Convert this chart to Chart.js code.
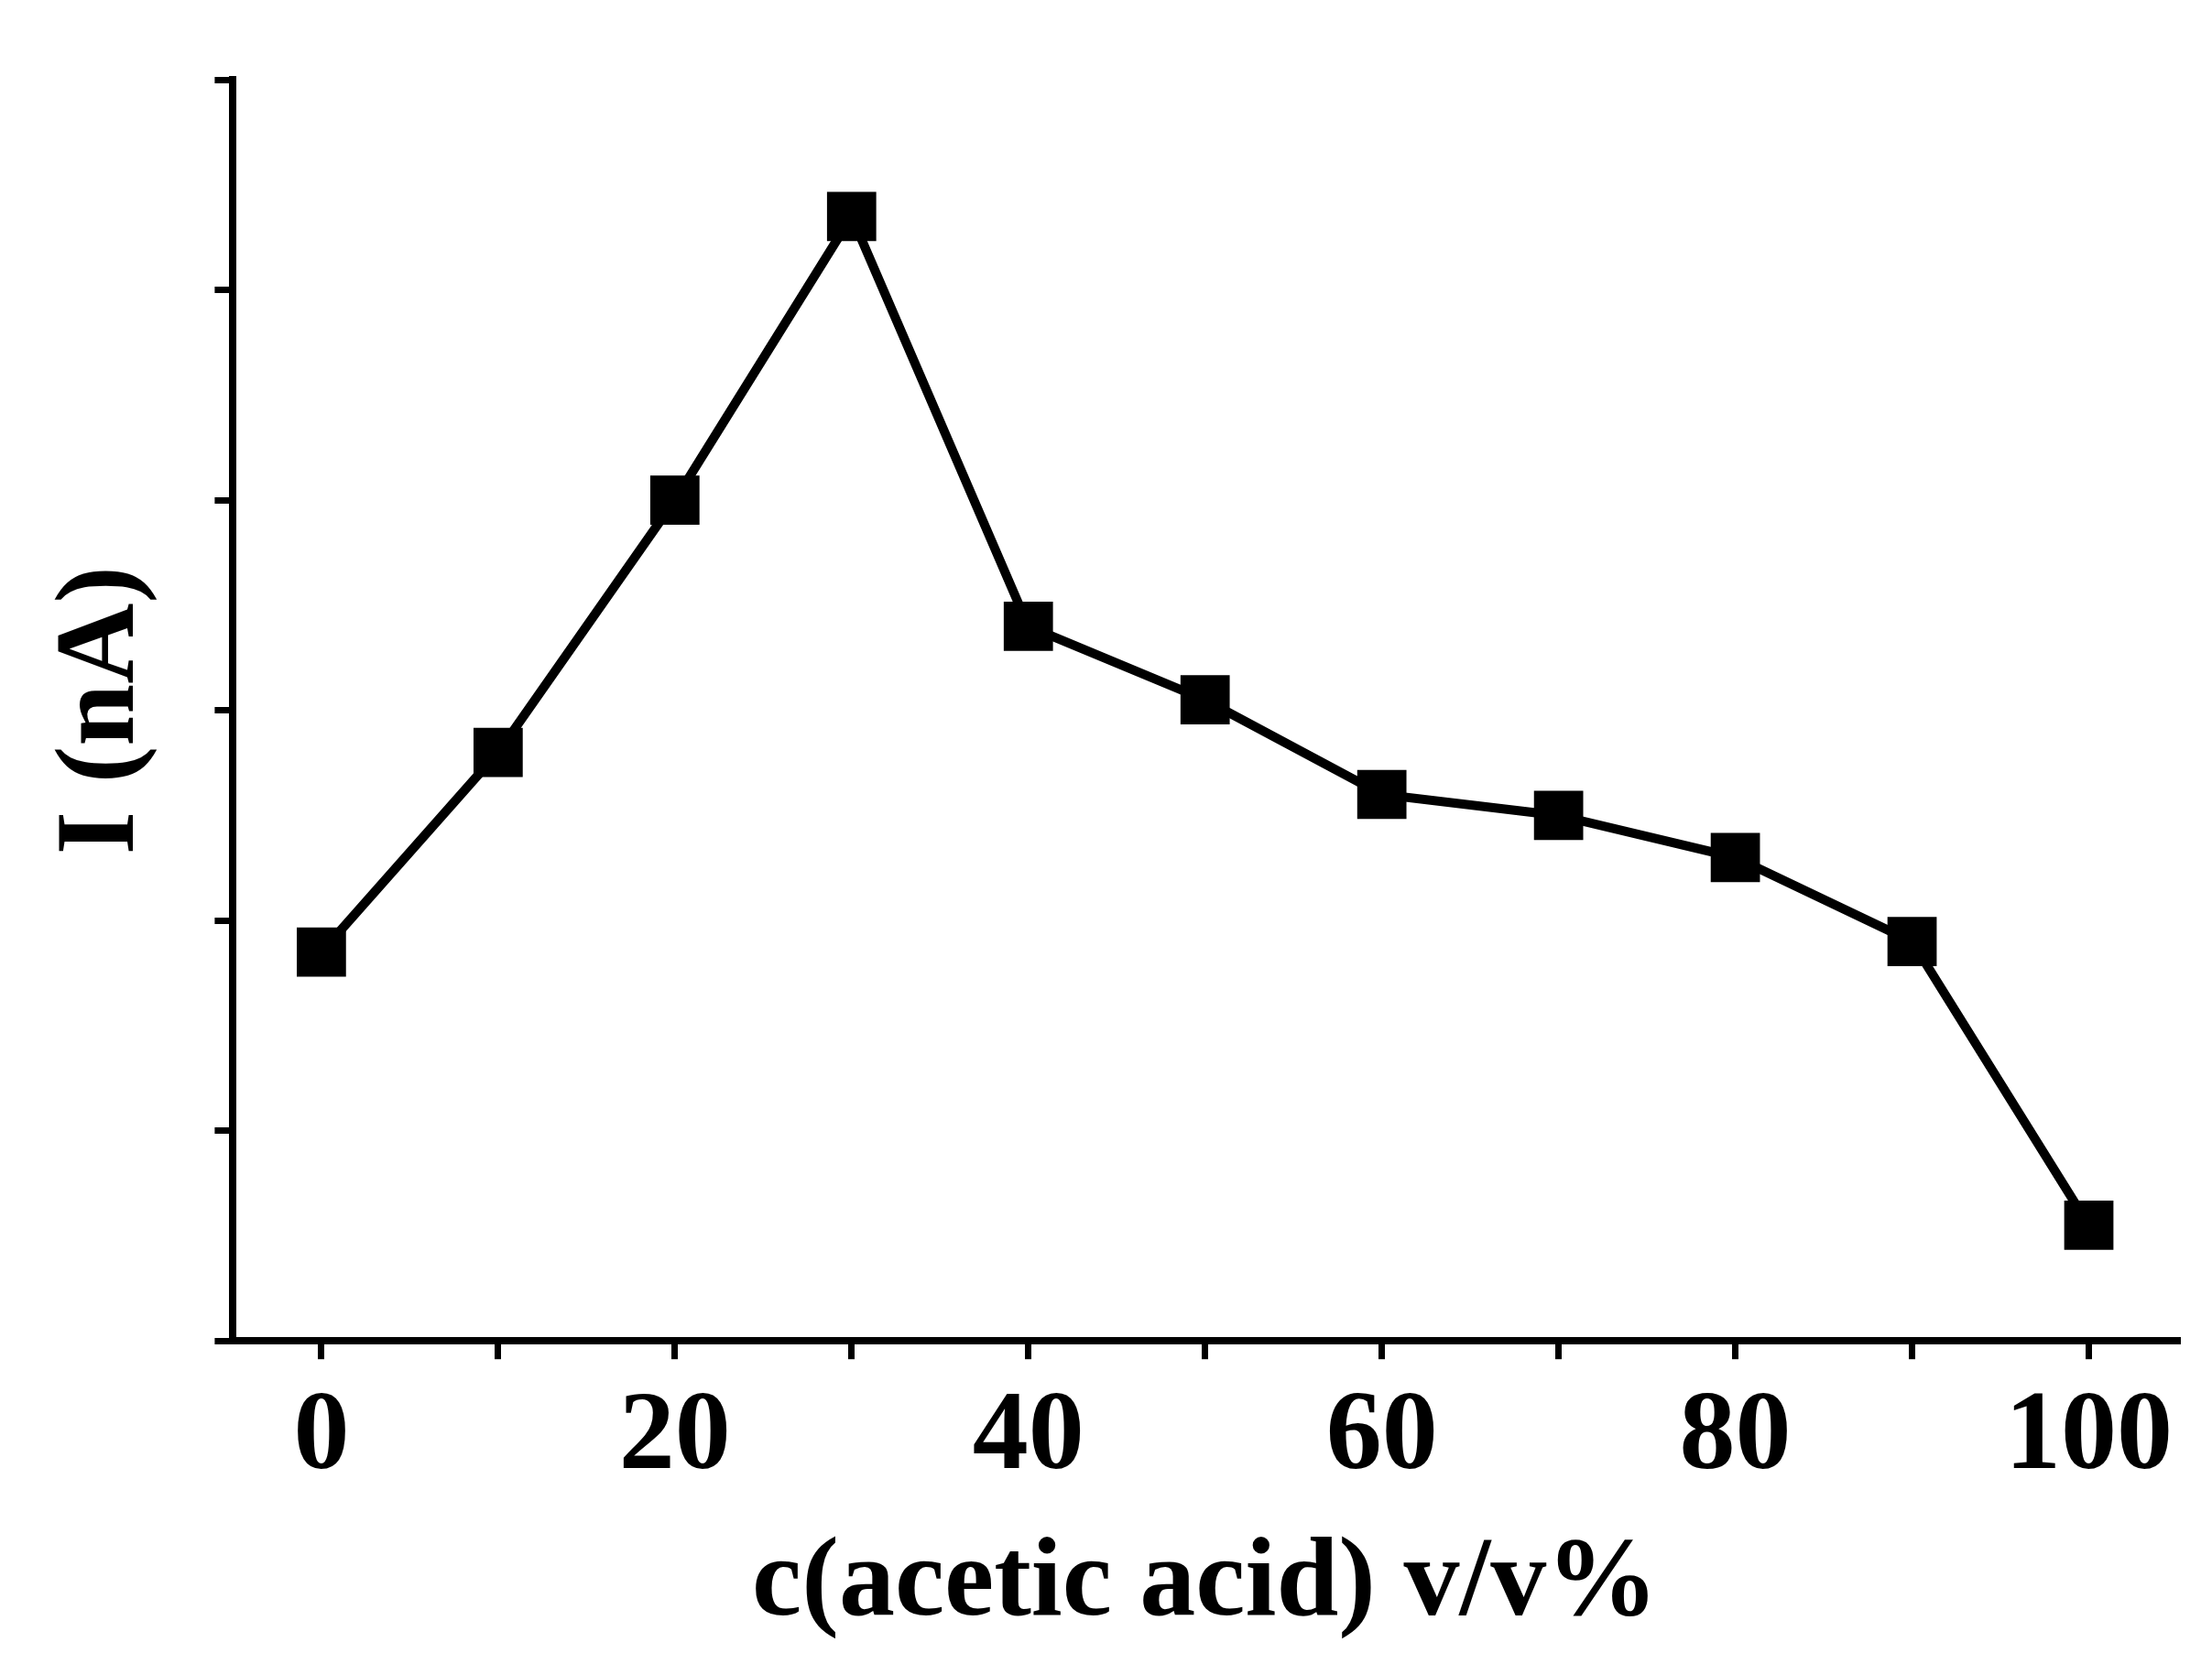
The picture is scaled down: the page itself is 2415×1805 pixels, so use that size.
<!DOCTYPE html>
<html>
<head>
<meta charset="utf-8">
<script src="https://cdn.jsdelivr.net/npm/chart.js@4/dist/chart.umd.min.js"></script>
<style>
  html, body { margin: 0; padding: 0; background: #fff; }
  #wrap { width: 2415px; height: 1805px; }
</style>
</head>
<body>
<div id="wrap"><canvas id="c" width="2415" height="1805"></canvas></div>
<script>
// valeurs
const acideConc = [0, 10, 20, 30, 40, 50, 60, 70, 80, 90, 100];
const courant = [367, 386, 410, 437, 398, 391, 382, 380, 376, 368, 341];
const xLabels = [0, 20, 40, 60, 80, 100];
const yLabels = [340, 360, 380, 400, 420, 440];

const police = { family: 'Liberation Serif', weight: 'bold', size: 122 };

new Chart(document.getElementById('c').getContext('2d'), {
    type: 'line',
    data: {
        datasets: [{
            data: acideConc.map((x, i) => ({ x: x, y: courant[i] })),
            borderColor: '#000',
            borderWidth: 10,
            pointStyle: 'rect',
            pointRadius: 38,
            pointBackgroundColor: '#000',
            pointBorderWidth: 0,
            tension: 0
        }]
    },
    options: {
        responsive: false,
        animation: false,
        devicePixelRatio: 1,
        layout: { padding: { top: 48, right: 10, left: 20, bottom: 0 } },
        plugins: { legend: { display: false }, tooltip: { enabled: false } },
        scales: {
            x: {
                type: 'linear', min: -5, max: 105,
                border: { color: '#000', width: 8 },
                grid: { drawOnChartArea: false, color: '#000', lineWidth: 7, tickLength: 20 },
                ticks: {
                    stepSize: 10, color: '#000', font: police, padding: 14, maxRotation: 0,
                    callback: v => xLabels.includes(v) ? String(v) : ''
                },
                afterBuildTicks: ax => { ax.ticks = acideConc.map(v => ({ value: v })); },
                title: { display: true, text: 'c(acetic acid) v/v%', color: '#000', font: police, padding: 0 }
            },
            y: {
                type: 'linear', min: 330, max: 450,
                border: { color: '#000', width: 8 },
                grid: { drawOnChartArea: false, color: '#000', lineWidth: 7, tickLength: 20 },
                ticks: {
                    stepSize: 10, color: '#000', font: police, padding: 14,
                    callback: v => yLabels.includes(v) ? String(v) : ''
                },
                title: { display: true, text: 'I (nA)', color: '#000', font: police, padding: 20 }
            }
        }
    }
});
</script>
</body>
</html>
